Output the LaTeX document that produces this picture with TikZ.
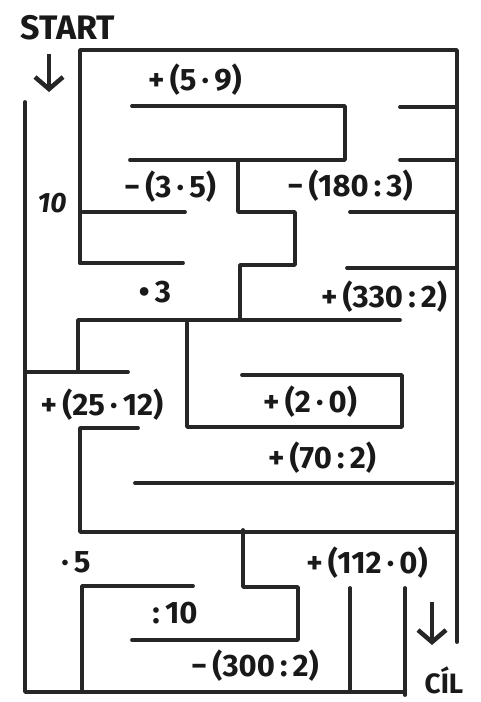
\documentclass[tikz,border=0pt]{standalone}
\usepackage{fontspec}
\setmainfont{Fira Sans}
\usetikzlibrary{arrows.meta}
\tikzset{
  wall/.style={line width=3.8pt, line cap=round, line join=round, draw=black!85},
  lbl/.style={font=\fontsize{31}{31}\selectfont\bfseries, inner sep=0pt, text=black!90},
  bigarrow/.style={line width=4.5pt, -{Straight Barb[length=12pt,width=28pt,line width=4.5pt]}, draw=black!85}
}
\begin{document}
\begin{tikzpicture}[x=1pt,y=-1pt]
\useasboundingbox (0,0) rectangle (481,702);
% outer frame
\draw[wall] (80,263) -- (80,50) -- (457,50) -- (457,642);
\draw[wall] (80,263) -- (183,263);
\draw[wall] (132,106) -- (345,106) -- (345,160) -- (130,160);
\draw[wall] (400,107) -- (455,107);
\draw[wall] (400,160) -- (457,160);
\draw[wall] (238,160) -- (238,212) -- (295,212) -- (295,265) -- (240,265) -- (240,320);
\draw[wall] (83,212) -- (185,212);
\draw[wall] (350,212) -- (457,212);
\draw[wall] (347,268) -- (457,268);
\draw[wall] (25,102) -- (25,692) -- (405,692);
\draw[wall] (405,588) -- (405,695);
\draw[wall] (400,320) -- (78,320) -- (78,372);
\draw[wall] (25,372) -- (128,372);
\draw[wall] (187,323) -- (187,427) -- (402,427) -- (402,375) -- (242,375);
\draw[wall] (138,428) -- (80,428) -- (80,532) -- (457,532);
\draw[wall] (135,483) -- (453,483);
\draw[wall] (243,530) -- (243,587) -- (298,587) -- (298,640) -- (132,640);
\draw[wall] (193,586) -- (82,586) -- (82,692);
\draw[wall] (350,588) -- (350,692);
% labels
\node[lbl,font=\fontsize{34}{34}\selectfont\bfseries] (start) at (68,28) {START};
\coordinate (s1) at (49,54);
\coordinate (s2) at (49,92);
\draw[bigarrow] (s1) -- (s2);
\node[lbl] (t1) at (195,80) {+\,(5\,·\,9)};
\node[lbl] (t2) at (170,187) {−\,(3\,·\,5)};
\node[lbl] (t3) at (350,186) {−\,(180\,:\,3)};
\node[lbl,font=\fontsize{28}{28}\selectfont\bfseries\itshape] (t4) at (52,203) {10};
\node[lbl] (t5) at (155,292) {•\,3};
\node[lbl] (t6) at (384,297) {+\,(330\,:\,2)};
\node[lbl] (t7) at (102,405) {+\,(25\,·\,12)};
\node[lbl] (t8) at (310,402) {+\,(2\,·\,0)};
\node[lbl] (t9) at (322,458) {+\,(70\,:\,2)};
\node[lbl] (t10) at (76,562) {·\,5};
\node[lbl] (t11) at (367,563) {+\,(112\,·\,0)};
\node[lbl] (t12) at (175,613) {:\,10};
\node[lbl] (t13) at (255,666) {−\,(300\,:\,2)};
\coordinate (g1) at (432,602);
\coordinate (g2) at (432,645);
\draw[bigarrow] (g1) -- (g2);
\node[lbl,font=\fontsize{28}{28}\selectfont\bfseries] (goal) at (444,680) {CÍL};
\end{tikzpicture}
\end{document}
